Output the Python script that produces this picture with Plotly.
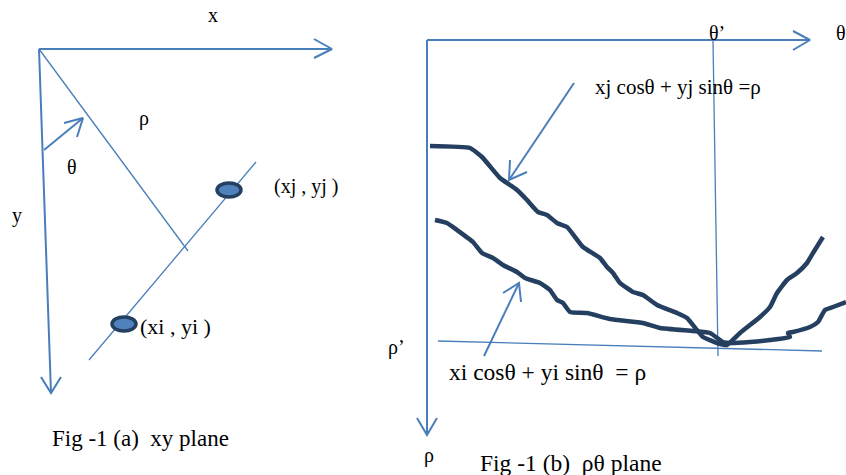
import plotly.graph_objects as go

BLUE = "#4a7ebb"
NAVY = "#243f60"
FONT = "Liberation Serif"

# ---- Fig (a) xy plane ----
x_axis_a = ([39, 332], [49, 49])
x_head_a = ([314, 332, 314], [39, 49, 58])
y_axis_a = ([39, 51], [49, 393])
y_head_a = ([41, 51, 61], [377, 393, 377])
normal_a = ([39, 188], [49, 251])
line_a = ([89, 256], [360, 162])
theta_arrow = ([44, 83], [150, 118])
theta_head = ([64, 83, 77], [123, 118, 137])
points_x = [229, 124]
points_y = [190, 324]

# ---- Fig (b) rho-theta plane ----
th_axis = ([427, 810], [40, 40])
th_head = ([793, 810, 793], [31, 40, 50])
rho_axis = ([427, 427], [40, 435])
rho_head = ([417, 427, 437], [418, 435, 418])
theta_p_line = ([713, 718], [40, 356])
rho_p_line = ([438, 822], [341, 351])
arrow_j = ([574, 509], [83, 180])
arrow_j_head = ([510, 509, 527], [160, 180, 172])
arrow_i = ([484, 519], [356, 283])
arrow_i_head = ([503, 519, 521], [293, 283, 302])

curve_j_x = [430, 470, 482, 500, 510, 517, 527, 538, 547, 557, 567, 583, 600, 607, 613, 620,
             633, 643, 657, 677, 687, 697, 703, 717, 727, 740, 760, 770, 777, 787, 797, 807, 813, 823]
curve_j_y = [146, 148, 157, 178, 185, 190, 200, 212, 215, 223, 227, 247, 258, 267, 273, 283,
             292, 295, 305, 313, 318, 330, 337, 343, 345, 333, 317, 307, 293, 280, 273, 263, 253, 237]
curve_i_x = [435, 447, 457, 473, 482, 493, 503, 517, 525, 540, 550, 557, 563, 570, 587, 610,
             643, 660, 693, 710, 723, 730, 750, 770, 790, 788, 793, 810, 818, 825, 833, 846]
curve_i_y = [220, 223, 230, 242, 253, 258, 265, 272, 278, 283, 290, 300, 303, 312, 313, 319,
             323, 328, 331, 333, 342, 343, 342, 340, 337, 333, 332, 327, 322, 310, 307, 302]

labels = ["x", "ρ", "θ", "y", "(xj , yj )", "(xi , yi )", "Fig -1 (a)  xy plane",
          "θ’", "θ", "ρ’", "ρ", "Fig -1 (b)  ρθ plane",
          "xj cosθ + yj sinθ =ρ", "xi cosθ + yi sinθ  = ρ"]
label_x = [213, 144, 72, 17, 272, 138, 50, 707, 834, 386, 422, 478, 593, 447]
label_y = [15, 118, 167, 215, 186, 326, 438, 33, 33, 347, 455, 463, 87, 372]
label_size = [20, 20, 20, 20, 20, 22, 23, 20, 20, 20, 20, 23.5, 21, 23.5]
label_anchor = ["center", "center", "center", "center", "left", "left", "left",
                "left", "left", "left", "left", "left", "left", "left"]

fig = go.Figure()

def seg(xy, color=BLUE, width=2):
    fig.add_trace(go.Scatter(x=xy[0], y=xy[1], mode="lines",
                             line=dict(color=color, width=width),
                             hoverinfo="skip", showlegend=False))

for s in [x_axis_a, x_head_a, y_axis_a, y_head_a, th_axis, th_head, rho_axis, rho_head,
          theta_arrow, theta_head, arrow_j, arrow_j_head, arrow_i, arrow_i_head]:
    seg(s, width=2)
for s in [normal_a, line_a, theta_p_line, rho_p_line]:
    seg(s, width=1.3)

fig.add_trace(go.Scatter(x=curve_j_x, y=curve_j_y, mode="lines",
                         line=dict(color=NAVY, width=4.5, shape="spline", smoothing=0.4),
                         hoverinfo="skip", showlegend=False))
fig.add_trace(go.Scatter(x=curve_i_x, y=curve_i_y, mode="lines",
                         line=dict(color=NAVY, width=4.5, shape="spline", smoothing=0.4),
                         hoverinfo="skip", showlegend=False))

for px, py in zip(points_x, points_y):
    fig.add_shape(type="circle", xref="x", yref="y",
                  x0=px - 12, x1=px + 12, y0=py - 7, y1=py + 7,
                  line=dict(color=NAVY, width=3.5), fillcolor="#4f81bd")

for t, lx, ly, sz, a in zip(labels, label_x, label_y, label_size, label_anchor):
    fig.add_annotation(x=lx, y=ly, text=t, showarrow=False, xanchor=a, yanchor="middle",
                       font=dict(family=FONT, size=sz, color="black"))

fig.update_xaxes(range=[0, 846], visible=False, fixedrange=True)
fig.update_yaxes(range=[475, 0], visible=False, fixedrange=True)
fig.update_layout(width=846, height=475, margin=dict(l=0, r=0, t=0, b=0),
                  plot_bgcolor="white", paper_bgcolor="white", showlegend=False)

fig.write_html("out.html", config={"staticPlot": True},
               post_script="document.body.style.margin='0';document.body.style.overflow='hidden';")
